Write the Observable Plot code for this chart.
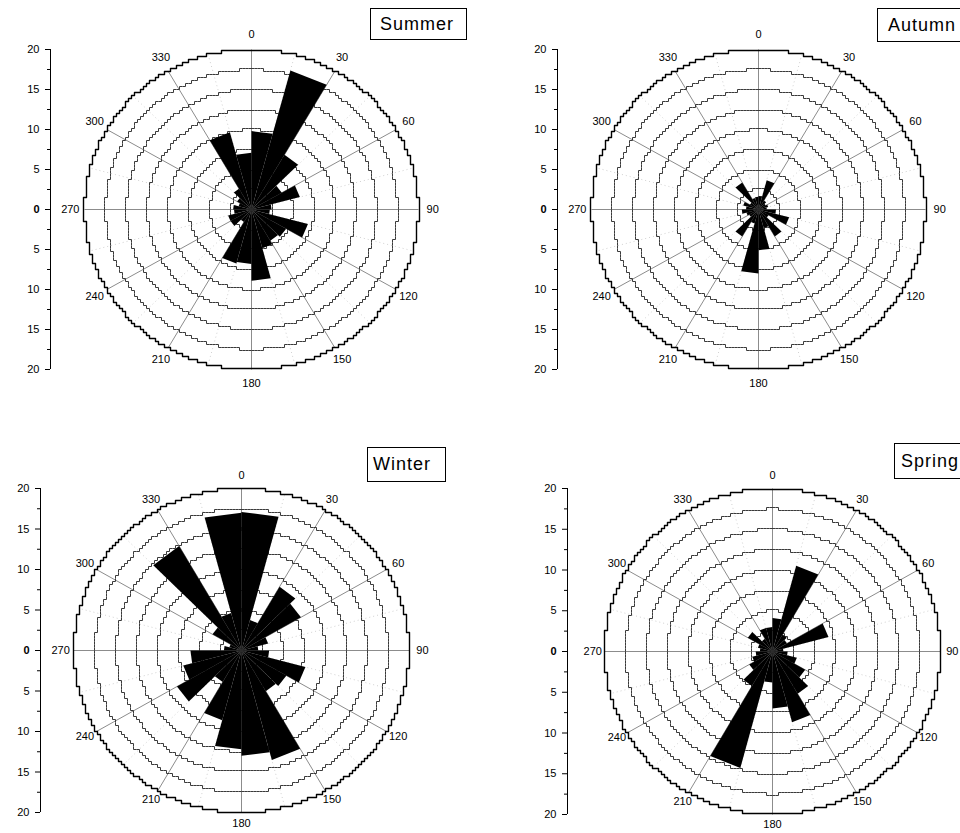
<!DOCTYPE html>
<html><head><meta charset="utf-8">
<script src="https://cdn.jsdelivr.net/npm/d3@7"></script>
<script src="https://cdn.jsdelivr.net/npm/@observablehq/plot@0.6"></script>
<style>
html,body{margin:0;padding:0;background:#fff;overflow:hidden}
#root{position:relative;width:960px;height:833px;overflow:hidden;font-family:"Liberation Sans",Arial,sans-serif}
.panel{position:absolute}
.box{position:absolute;border:1px solid #000;background:#fff;font-size:18px;letter-spacing:1px;box-sizing:border-box;white-space:nowrap;color:#000}
</style>
</head><body><div id="root"></div>
<script>
// ---- data ----
const directions = [0,15,30,45,60,75,90,105,120,135,150,165,180,195,210,225,240,255,270,285,300,315,330,345];
const summer = [9.8,18.0,7.9,4.2,6.0,2.4,2.2,7.0,4.8,4.5,5.0,8.9,6.8,7.0,1.8,2.9,2.9,2.1,2.2,1.6,2.0,3.0,10.0,7.1];
const autumn = [1.7,3.8,1.3,1.0,1.2,1.0,2.1,3.8,1.4,3.9,2.4,5.1,8.0,1.8,3.9,1.3,1.5,2.0,1.5,1.9,1.2,3.9,1.5,1.6];
const winter = [17.1,3.9,9.1,8.2,3.3,2.0,3.3,7.9,6.2,5.8,14.0,13.0,12.2,8.9,4.5,8.9,7.2,6.1,2.1,1.5,4.0,14.9,4.8,17.0];
const spring = [4.1,10.9,2.4,2.0,6.9,1.3,1.8,3.0,4.5,6.0,9.0,7.0,3.8,14.8,4.9,3.2,2.5,2.0,1.5,1.8,3.4,1.8,3.0,3.0];
const angleLabels = [0,30,60,90,120,150,180,210,240,270,300,330];
const minorSpokes = [15,45,75,105,135,165,195,225,255,285,315,345];
const ringRadii = [2.5,5,7.5,10,12.5,15,17.5,20];
const majorTicks = [-20,-15,-10,-5,5,10,15,20];
const zeroTick = [0];
const minorTicks = [-17.5,-12.5,-7.5,-2.5,2.5,7.5,12.5,17.5];
const seasons = ["Summer","Autumn","Winter","Spring"];

const rad = d => d * Math.PI / 180;

function stairRing(r, sx, sy, g) {
  const Rx = r * sx, Ry = r * sy;
  const pts = [];
  const N = 2880;
  let prev = null;
  for (let i = 0; i <= N; i++) {
    const t = 2 * Math.PI * i / N;
    const qx = Math.round(Rx * Math.sin(t) / g) * g;
    const qy = Math.round(Ry * Math.cos(t) / g) * g;
    if (prev && prev[0] === qx && prev[1] === qy) continue;
    if (prev && prev[0] !== qx && prev[1] !== qy) {
      const c1 = [qx, prev[1]], c2 = [prev[0], qy];
      const d1 = (c1[0] / Rx) ** 2 + (c1[1] / Ry) ** 2;
      const d2 = (c2[0] / Rx) ** 2 + (c2[1] / Ry) ** 2;
      pts.push(d1 > d2 ? c1 : c2);
    }
    pts.push([qx, qy]);
    prev = [qx, qy];
  }
  return pts.map(([a, b]) => ({x: a / sx, y: b / sy, r}));
}

function panel(cfg) {
  const {values, left, top, width, height, axisX, cx, cy, rx, ry, lr} = cfg;
  const sx = rx / 20, sy = ry / 20;
  const inner = ringRadii.filter(r => r < 20).flatMap(r => stairRing(r, sx, sy, 3));
  const outer = stairRing(20, sx, sy, 3);
  const wedges = directions.flatMap((d, i) => {
    const v = values[i];
    return [
      {k: i, x: 0, y: 0},
      {k: i, x: v * Math.sin(rad(d)), y: v * Math.cos(rad(d))},
      {k: i, x: v * Math.sin(rad(d + 15)), y: v * Math.cos(rad(d + 15))}
    ];
  });
  const chart = Plot.plot({
    width, height,
    marginLeft: axisX, marginRight: 0,
    marginTop: cy - ry, marginBottom: height - (cy + ry),
    x: {domain: [-20, 20], range: [cx - rx, cx + rx], axis: null},
    y: {domain: [-20, 20], range: [cy + ry, cy - ry], label: null},
    style: {fontFamily: '"Liberation Sans", Arial, sans-serif', fontSize: "11px", background: "transparent", color: "#000"},
    marks: [
      Plot.link(minorSpokes, {x1: 0, y1: 0, x2: d => 20 * Math.sin(rad(d)), y2: d => 20 * Math.cos(rad(d)), stroke: "#d2d2d2", strokeWidth: 1, strokeDasharray: "1,3"}),
      Plot.link(angleLabels, {x1: 0, y1: 0, x2: d => 20 * Math.sin(rad(d)), y2: d => 20 * Math.cos(rad(d)), stroke: "#8c8c8c", strokeWidth: 1}),
      Plot.line(inner, {x: "x", y: "y", z: "r", stroke: "#3a3a3a", strokeWidth: 1, curve: "linear"}),
      Plot.line(outer, {x: "x", y: "y", stroke: "#000", strokeWidth: 1.4, curve: "linear"}),
      Plot.line(wedges, {x: "x", y: "y", z: "k", fill: "#000", stroke: "none", curve: "linear-closed"}),
      Plot.text(angleLabels, {x: d => lr[0] * Math.sin(rad(d)), y: d => (Math.cos(rad(d)) < 0 ? lr[2] : lr[1]) * Math.cos(rad(d)), text: d => String(d), fontSize: 11, fill: "#000"}),
      Plot.ruleX([(axisX - cx) / sx], {y1: -20, y2: 20, stroke: "#000", strokeWidth: 1}),
      Plot.axisY(minorTicks, {anchor: "left", tickSize: 3, tickFormat: () => "", stroke: "#000"}),
      Plot.axisY(majorTicks, {anchor: "left", tickSize: 5, tickPadding: 6, tickFormat: d => String(Math.abs(d)), fontSize: 11, stroke: "#000", fill: "#000"}),
      Plot.axisY(zeroTick, {anchor: "left", tickSize: 5, tickPadding: 6, tickFormat: d => String(d), fontSize: 11, fontWeight: "bold", stroke: "#000", fill: "#000"})
    ]
  });
  chart.classList.add("panel");
  chart.style.left = left + "px";
  chart.style.top = top + "px";
  document.getElementById("root").appendChild(chart);
}

function box(text, left, top, w, h, pad) {
  const b = document.createElement("div");
  b.className = "box";
  b.textContent = text;
  Object.assign(b.style, {left: left + "px", top: top + "px", width: w + "px", height: h + "px", lineHeight: (h - 2) + "px", paddingLeft: pad + "px"});
  document.getElementById("root").appendChild(b);
}

panel({values: summer, left: 0, top: 0, width: 480, height: 416, axisX: 50, cx: 251, cy: 209, rx: 167, ry: 160, lr: [21.7, 21.9, 21.7]});
panel({values: autumn, left: 480, top: 0, width: 480, height: 416, axisX: 77, cx: 278, cy: 209, rx: 167, ry: 160, lr: [21.7, 21.9, 21.7]});
panel({values: winter, left: 0, top: 416, width: 480, height: 417, axisX: 40, cx: 241, cy: 234, rx: 167.5, ry: 162, lr: [21.6, 21.6, 21.3]});
panel({values: spring, left: 480, top: 416, width: 480, height: 417, axisX: 87, cx: 292, cy: 235, rx: 168, ry: 163, lr: [21.4, 21.6, 21.2]});

box(seasons[0], 370, 8, 97, 32, 9);
box(seasons[1], 877, 8, 100, 34, 10);
box(seasons[2], 367, 447, 79, 35, 5);
box(seasons[3], 894, 443, 90, 36, 6);
</script>
</body></html>
